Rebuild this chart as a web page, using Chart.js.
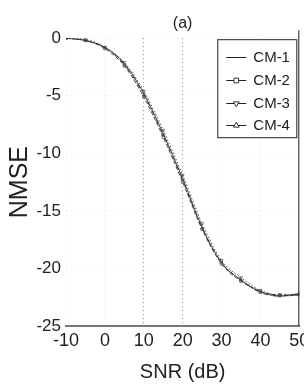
<!DOCTYPE html>
<html>
<head>
<meta charset="utf-8">
<script src="https://cdn.jsdelivr.net/npm/chart.js@4.4.1/dist/chart.umd.min.js"></script>
<style>
html,body{margin:0;padding:0;background:#fff;}
#wrap{width:304px;height:387px;position:relative;}
</style>
</head>
<body>
<div id="wrap"><canvas id="c"></canvas></div>
<script>
const snr = [-10, -5, 0, 5, 10, 15, 20, 25, 30, 35, 40, 45, 50];
const cm1 = [0, -0.2, -0.8, -2.2, -4.8, -8.3, -12.2, -16.4, -19.5, -21.0, -22.0, -22.4, -22.3];
const cm2 = [0, -0.2, -0.9, -2.4, -5.1, -8.6, -12.5, -16.6, -19.6, -21.1, -22.0, -22.3, -22.3];
const cm3 = [0, -0.1, -0.8, -2.1, -4.6, -8.0, -11.9, -16.1, -19.3, -20.8, -21.9, -22.3, -22.2];
const cm4 = [0, -0.2, -0.8, -2.3, -4.9, -8.4, -12.3, -16.5, -19.5, -21.0, -22.1, -22.4, -22.2];
const seriesNames = ['CM-1', 'CM-2', 'CM-3', 'CM-4'];
const xTicks = [-10, 0, 10, 20, 30, 40, 50];
const yTicks = [-25, -20, -15, -10, -5, 0];

const FONT = "'Liberation Sans',Arial,sans-serif";

function pts(arr){ return snr.map((x,i)=>({x:x, y:arr[i]})); }

const styles = [
  {dash:[], point:false, rot:0},
  {dash:[4,2], point:'rect', rot:0},
  {dash:[1.5,2], point:'triangle', rot:180},
  {dash:[5,2,1,2], point:'triangle', rot:0}
];
const allData = [cm1, cm2, cm3, cm4];

const datasets = allData.map((d,i)=>({
  label: seriesNames[i],
  data: pts(d),
  borderColor: '#333',
  borderWidth: 0.9,
  borderDash: styles[i].dash,
  cubicInterpolationMode: 'monotone',
  pointStyle: styles[i].point || 'circle',
  pointRotation: styles[i].rot,
  pointRadius: styles[i].point ? 1.8 : 0,
  pointBorderWidth: 0.7,
  pointBorderColor: '#555',
  pointBackgroundColor: 'rgba(255,255,255,0)',
  _st: styles[i]
}));

const legendPlugin = {
  id: 'boxLegend',
  afterDatasetsDraw(chart){
    const ctx = chart.ctx, a = chart.chartArea;
    const bx = a.right - 82, by = a.top + 1, bw = 79, bh = 98;
    ctx.save();
    ctx.fillStyle = '#fff';
    ctx.fillRect(bx, by, bw, bh);
    ctx.strokeStyle = '#222';
    ctx.lineWidth = 1;
    ctx.strokeRect(bx + 0.5, by + 0.5, bw, bh);
    chart.data.datasets.forEach((ds, i) => {
      const yy = Math.round(by + 18 + i * 22.7);
      ctx.strokeStyle = '#222';
      ctx.setLineDash([]);
      ctx.lineWidth = 1;
      ctx.beginPath();
      ctx.moveTo(bx + 9, yy + 0.5);
      ctx.lineTo(bx + 29, yy + 0.5);
      ctx.stroke();
      if (ds._st.point) {
        ctx.fillStyle = '#fff';
        ctx.strokeStyle = '#333';
        Chart.helpers.drawPoint(ctx, {
          pointStyle: ds._st.point, rotation: ds._st.rot, radius: 3.3, borderWidth: 0.9
        }, bx + 19, yy + 0.5);
      }
      ctx.fillStyle = '#222';
      ctx.font = "15px " + FONT;
      ctx.textBaseline = 'middle';
      ctx.textAlign = 'left';
      ctx.fillText(ds.label, bx + 36, yy + 1);
    });
    ctx.restore();
  }
};

const framePlugin = {
  id: 'frame',
  afterDraw(chart){
    const ctx = chart.ctx, a = chart.chartArea;
    ctx.save();
    ctx.strokeStyle = '#222';
    ctx.lineWidth = 1;
    ctx.beginPath();
    ctx.moveTo(a.right - 0.5, a.top - 8);
    ctx.lineTo(a.right - 0.5, a.bottom);
    ctx.stroke();
    ctx.restore();
  }
};

new Chart(document.getElementById('c'), {
  type: 'line',
  data: { datasets },
  plugins: [legendPlugin, framePlugin],
  options: {
    responsive: true,
    maintainAspectRatio: false,
    animation: false,
    layout: { padding: { left: 0, right: 4, top: 0, bottom: 0 } },
    plugins: {
      legend: { display: false },
      tooltip: { enabled: false },
      title: {
        display: true,
        text: '(a)',
        fullSize: false,
        color: '#222',
        font: { family: FONT, size: 16, weight: 'normal' },
        padding: { top: 14, bottom: 5 }
      }
    },
    scales: {
      x: {
        type: 'linear',
        min: -10, max: 50,
        afterBuildTicks: s => { s.ticks = xTicks.map(v => ({value: v})); },
        afterFit: s => { s.height = 61; s.paddingLeft = 0; s.paddingRight = 0; },
        ticks: { color: '#222', font: { family: FONT, size: 18 }, padding: 4, maxRotation: 0, autoSkip: false },
        grid: {
          drawTicks: false,
          color: c => (c.tick && (c.tick.value === 10 || c.tick.value === 20)) ? 'rgba(0,0,0,0.45)' : 'rgba(0,0,0,0.1)',
          lineWidth: 1
        },
        border: { display: true, color: '#777', width: 2, dash: [1, 3] },
        title: {
          display: true, text: 'SNR (dB)', color: '#222',
          font: { family: FONT, size: 20 }, padding: { top: 0, bottom: 3 }
        }
      },
      y: {
        type: 'linear',
        min: -25, max: 0,
        afterBuildTicks: s => { s.ticks = yTicks.map(v => ({value: v})); },
        afterFit: s => { s.width = 66; },
        ticks: { color: '#222', font: { family: FONT, size: 17 }, padding: 5 },
        grid: { drawTicks: false, color: 'rgba(0,0,0,0.08)', lineWidth: 1 },
        border: { display: false, dash: [1, 3] },
        title: {
          display: true, text: 'NMSE', color: '#222',
          font: { family: FONT, size: 25 }, padding: { top: 5, bottom: 0 }
        }
      }
    }
  }
});
</script>
</body>
</html>
